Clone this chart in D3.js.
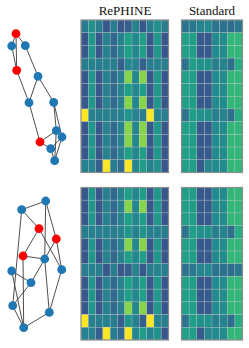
<!DOCTYPE html>
<html>
<head>
<meta charset="utf-8">
<script src="https://cdn.jsdelivr.net/npm/d3@7"></script>
<style>
  body { margin: 0; background: #fff; }
  svg { display: block; }
</style>
</head>
<body>
<svg id="chart" width="249" height="348"></svg>
<script>
// panel titles
var titles = ["RePHINE", "Standard"];

// graph 1 (top): node layout, colour class and edges
var nodesTop = [[16, 33.7], [11.7, 46], [25.3, 45.7], [16.7, 70.3], [38, 76.3], [29, 102.7],
    [53.7, 102.3], [56.3, 130.7], [62, 137], [40, 142], [50.7, 148.7], [54.7, 160.7]];
var redTop = [1, 0, 0, 1, 0, 0, 0, 0, 0, 1, 0, 0];
var edgesTop = [[0, 1], [0, 2], [0, 3], [1, 3], [2, 4], [3, 5], [4, 5], [4, 6], [5, 9],
    [6, 7], [6, 8], [9, 10], [9, 7], [7, 11], [8, 10], [8, 11], [10, 11]];

// graph 2 (bottom)
var nodesBot = [[45.7, 201], [21.7, 209.7], [39, 228.7], [56.3, 239], [23, 256], [44.7, 259],
    [61.7, 269.7], [11.7, 271], [31, 282.7], [12.7, 305.7], [49.3, 312.3], [23.7, 327.7]];
var redBot = [0, 0, 1, 1, 1, 0, 0, 0, 0, 0, 0, 0];
var edgesBot = [[0, 1], [0, 3], [0, 5], [1, 2], [1, 9], [2, 4], [2, 6], [3, 5], [3, 6], [4, 5],
    [4, 11], [7, 8], [7, 11], [5, 8], [8, 9], [5, 10], [6, 10], [9, 11], [10, 11]];

// heatmap values (viridis 0..1), 12 rows each
var rephineTop = [
    [.42, .50, .42, .27, .42, .27, .30, .44, .27, .42, .50, .42],
    [.27, .53, .27, .44, .34, .44, .56, .46, .56, .27, .53, .27],
    [.27, .53, .27, .44, .34, .44, .56, .46, .56, .27, .53, .27],
    [.42, .44, .42, .44, .42, .30, .46, .44, .30, .42, .44, .42],
    [.27, .53, .27, .44, .34, .44, .82, .46, .82, .27, .53, .27],
    [.27, .53, .27, .44, .34, .44, .56, .46, .56, .27, .53, .27],
    [.27, .53, .27, .44, .34, .44, .82, .46, .82, .27, .53, .27],
    [1.0, .44, .42, .44, .42, .44, .52, .44, .42, 1.0, .44, .42],
    [.27, .53, .27, .44, .34, .44, .82, .46, .82, .27, .53, .27],
    [.27, .53, .27, .44, .34, .44, .82, .46, .82, .27, .53, .27],
    [.27, .53, .27, .44, .34, .44, .56, .46, .56, .27, .53, .27],
    [.44, .44, .30, 1.0, .42, .34, 1.0, .46, .56, .44, .50, .27]
];
var rephineBot = [
    [.27, .53, .27, .44, .34, .44, .56, .46, .56, .27, .53, .27],
    [.27, .53, .27, .44, .34, .44, .82, .46, .82, .27, .53, .27],
    [.27, .53, .27, .44, .34, .44, .56, .46, .56, .27, .53, .27],
    [.42, .44, .42, .44, .42, .44, .52, .44, .52, .42, .44, .42],
    [.27, .53, .27, .44, .34, .44, .82, .46, .82, .27, .53, .27],
    [.27, .53, .27, .44, .34, .44, .56, .46, .56, .27, .53, .27],
    [.42, .44, .42, .27, .42, .27, .30, .44, .27, .42, .44, .42],
    [.27, .53, .27, .44, .34, .44, .56, .46, .56, .27, .53, .27],
    [.27, .53, .27, .44, .34, .44, .56, .46, .56, .27, .53, .27],
    [.27, .53, .27, .44, .34, .44, .82, .46, .82, .27, .53, .27],
    [1.0, .44, .42, .44, .42, .30, .52, .44, .30, 1.0, .44, .42],
    [.44, .44, .30, 1.0, .42, .34, 1.0, .46, .56, .44, .50, .27]
];
var standardTop = [
    [.38, .40, .45, .47, .38, .38, .36, .40],
    [.56, .56, .28, .28, .48, .48, .66, .66],
    [.56, .56, .28, .28, .48, .48, .66, .66],
    [.38, .56, .50, .50, .42, .45, .36, .62],
    [.56, .56, .28, .28, .48, .48, .66, .66],
    [.56, .56, .28, .28, .48, .48, .66, .66],
    [.56, .56, .28, .28, .48, .48, .66, .66],
    [.38, .56, .50, .50, .42, .45, .36, .62],
    [.56, .56, .28, .28, .48, .48, .66, .66],
    [.56, .56, .28, .28, .48, .48, .66, .66],
    [.56, .56, .28, .28, .48, .48, .66, .66],
    [.56, .56, .28, .45, .48, .48, .66, .66]
];
var standardBot = [
    [.56, .56, .28, .28, .48, .48, .66, .66],
    [.56, .56, .28, .28, .48, .48, .66, .66],
    [.56, .56, .28, .28, .48, .48, .66, .66],
    [.38, .56, .50, .50, .42, .45, .36, .62],
    [.56, .56, .28, .28, .48, .48, .66, .66],
    [.56, .56, .28, .28, .48, .48, .66, .66],
    [.38, .40, .45, .47, .38, .38, .36, .40],
    [.56, .56, .28, .28, .48, .48, .66, .66],
    [.56, .56, .28, .28, .48, .48, .66, .66],
    [.56, .56, .28, .28, .48, .48, .66, .66],
    [.38, .56, .50, .50, .42, .45, .36, .62],
    [.56, .56, .28, .45, .48, .48, .66, .66]
];

var svg = d3.select("#chart");
var color = d3.scaleSequential(d3.interpolateViridis).domain([0, 1]);

// layout units of the graph drawings map straight onto the left column
var gx = d3.scaleLinear().domain([0, 80]).range([0, 80]);
var gy = d3.scaleLinear().domain([0, 348]).range([0, 348]);

function drawGraph(nodes, red, edges) {
    var g = svg.append("g");
    g.selectAll("line")
        .data(edges)
        .enter()
        .append("line")
        .attr("x1", function (d) { return gx(nodes[d[0]][0]); })
        .attr("y1", function (d) { return gy(nodes[d[0]][1]); })
        .attr("x2", function (d) { return gx(nodes[d[1]][0]); })
        .attr("y2", function (d) { return gy(nodes[d[1]][1]); })
        .attr("stroke", "#3a3a3a")
        .attr("stroke-width", 0.9);
    g.selectAll("circle")
        .data(nodes)
        .enter()
        .append("circle")
        .attr("cx", function (d) { return gx(d[0]); })
        .attr("cy", function (d) { return gy(d[1]); })
        .attr("r", 4.4)
        .attr("fill", function (d, i) { return red[i] ? "#ff0000" : "#1f77b4"; });
}

function drawHeatmap(data, x0, x1, y0, y1) {
    var ncol = data[0].length;
    var xs = d3.scaleBand().domain(d3.range(ncol)).range([x0, x1]);
    var ys = d3.scaleBand().domain(d3.range(data.length)).range([y0, y1]);
    var g = svg.append("g");
    var rows = g.selectAll("g.row")
        .data(data)
        .enter()
        .append("g")
        .attr("class", "row");
    rows.selectAll("rect")
        .data(function (d, i) { return d.map(function (v, j) { return {r: i, c: j, v: v}; }); })
        .enter()
        .append("rect")
        .attr("x", function (d) { return xs(d.c); })
        .attr("y", function (d) { return ys(d.r); })
        .attr("width", xs.bandwidth())
        .attr("height", ys.bandwidth())
        .attr("fill", function (d) { return color(d.v); })
        .attr("stroke", "rgba(200,200,200,0.45)")
        .attr("stroke-width", 0.6);
    // frame
    g.append("rect")
        .attr("x", x0)
        .attr("y", y0)
        .attr("width", x1 - x0)
        .attr("height", y1 - y0)
        .attr("fill", "none")
        .attr("stroke", "#8e8e8e")
        .attr("stroke-width", 1.2);
}

drawGraph(nodesTop, redTop, edgesTop);
drawGraph(nodesBot, redBot, edgesBot);

drawHeatmap(rephineTop, 81, 168.5, 20, 172.5);
drawHeatmap(rephineBot, 81, 168.5, 187.5, 340);
drawHeatmap(standardTop, 181.5, 242.5, 20, 172.5);
drawHeatmap(standardBot, 181.5, 242.5, 187.5, 340);

svg.selectAll("text.title")
    .data(titles)
    .enter()
    .append("text")
    .attr("class", "title")
    .attr("x", function (d, i) { return i === 0 ? 125 : 212; })
    .attr("y", 15)
    .attr("text-anchor", "middle")
    .attr("font-family", "Liberation Serif, Times New Roman, serif")
    .attr("font-size", 13)
    .attr("fill", "#111")
    .text(function (d) { return d; });
</script>
</body>
</html>
